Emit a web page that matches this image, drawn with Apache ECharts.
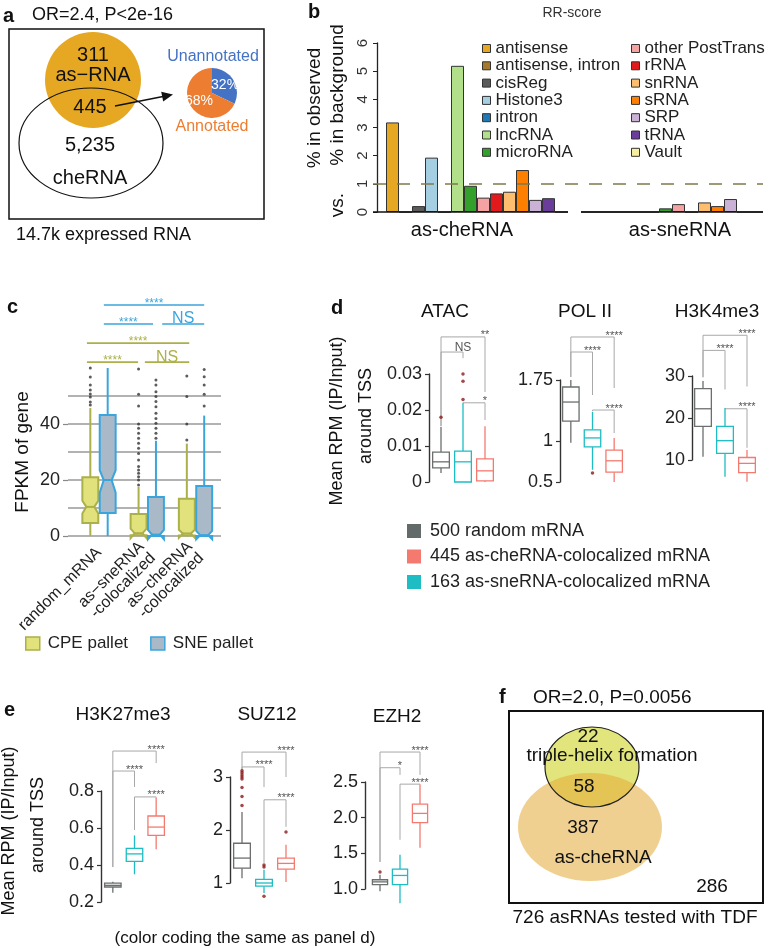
<!DOCTYPE html>
<html>
<head>
<meta charset="utf-8">
<script src="https://cdn.jsdelivr.net/npm/echarts@6/dist/echarts.min.js"></script>
<style>
  html, body { margin: 0; padding: 0; background: #fff; }
  #chart { width: 776px; height: 948px; }
</style>
</head>
<body>
<div id="chart"></div>
<script>
const FONT = '"Liberation Sans", Arial, Helvetica, sans-serif'

// ---- a: annotation share of the 445 overlap
const annotNames = ['Unannotated', 'Annotated']
const annotPct = [32, 68]

// ---- b: RR-score
const rrTypes = ['antisense', 'antisense, intron', 'cisReg', 'Histone3', 'intron', 'lncRNA', 'microRNA',
  'other PostTrans', 'rRNA', 'snRNA', 'sRNA', 'SRP', 'tRNA', 'Vault']
const rrGroups = ['as-cheRNA', 'as-sneRNA']
const rrChe = [3.18, 0, 0.21, 1.93, 0, 5.19, 0.93, 0.51, 0.66, 0.72, 1.49, 0.43, 0.49, 0]
const rrSne = [0, 0, 0, 0, 0, 0, 0.13, 0.28, 0, 0.34, 0.21, 0.46, 0, 0]
const rrTicks = [0, 1, 2, 3, 4, 5, 6]

// ---- c: FPKM boxplots  [low, q1, median, q3, high]
const fpkmGroups = ['random_mRNA', 'as\u2212sneRNA\n-colocalized', 'as\u2212cheRNA\n-colocalized']
const cpeBox = [[0, 4.6, 10.4, 21.0, 45.7], [0, 0.3, 1.0, 7.9, 17.5], [0, 0.2, 0.9, 13.3, 33.0]]
const cpeNotch = [[8.0, 12.6], [-0.8, 2.6], [-0.6, 2.2]]
const sneBox = [[0, 8.2, 20.0, 43.2, 60.0], [0, 0, 0.5, 13.9, 34.0], [0, 0, 0.3, 17.9, 43.0]]
const sneNotch = [[15.5, 23.5], [-1.2, 2.2], [-1.2, 1.8]]
const cpeOut = [
  [46.8, 47.9, 49.6, 50.7, 52.1, 53.9, 56.8, 60.0],
  [18.2, 20.0, 21.2, 22.4, 23.6, 24.8, 27.1, 29.5, 31.3, 33.1, 34.9, 36.7, 38.5, 40.0, 46.4, 50.6, 59.6],
  [34.3, 40.0, 49.8, 57.1],
]
const sneOut = [
  [],
  [34.9, 36.7, 38.5, 40.3, 42.0, 43.8, 46.2, 48.0, 49.8, 51.5, 53.9, 55.7],
  [46.4, 50.6, 53.9, 56.9, 59.5],
]
// [from, to, height] in group units / FPKM
const fpkmSig = [[1.10, 3.18, 82.5], [1.10, 2.12, 75.7], [2.31, 3.18, 75.7],
  [0.75, 2.87, 68.9], [0.75, 1.81, 62.1], [1.95, 2.87, 62.1]]
const fpkmSigLabels = ['****', '****', 'NS', '****', '****', 'NS']
const fpkmSigPallet = [1, 1, 1, 0, 0, 0]

// ---- d / e: box order = random, as-sneRNA, as-cheRNA
const markNames = ['500 random mRNA', '163 as-sneRNA-colocalized mRNA', '445 as-cheRNA-colocalized mRNA']
const legendNames = ['500 random mRNA', '445 as-cheRNA-colocalized mRNA', '163 as-sneRNA-colocalized mRNA']

const atacBox = [[0.0025, 0.0039, 0.0056, 0.0083, 0.0153], [0, 0, 0.0056, 0.0086, 0.022], [0, 0.0003, 0.0031, 0.0064, 0.0155]]
const atacOut = [[0.018], [0.0229, 0.028, 0.030], []]
const atacSig = [[0, 2, 0.0403, 0.0155, 0.025], [0, 1, 0.0361, 0.0155, 0.0344], [1, 2, 0.022, 0.022, 0.0172]]
const atacSigLabels = ['**', 'NS', '*']

const pol2Box = [[0.98, 1.247, 1.48, 1.664, 1.75], [0.65, 0.93, 1.04, 1.14, 1.36], [0.5, 0.62, 0.76, 0.89, 1.04]]
const pol2Out = [[], [0.61], []]
const pol2Sig = [[0, 2, 2.277, 1.787, 1.652], [0, 1, 2.093, 1.787, 1.566], [1, 2, 1.382, 1.37, 1.1]]
const pol2SigLabels = ['****', '****', '****']
const pol2Ticks = [0.5, 1, 1.75]

const h3k4Box = [[10.8, 18.0, 22.2, 27.0, 28.8], [6.0, 11.6, 14.6, 18.0, 22.4], [4.8, 7.0, 9.2, 10.6, 12.4]]
const h3k4Out = [[], [], []]
const h3k4Sig = [[0, 2, 39.7, 29.7, 27.5], [0, 1, 36.1, 29.7, 26.8], [1, 2, 22.2, 22.2, 12.9]]
const h3k4SigLabels = ['****', '****', '****']

const h3k27Box = [[0.25, 0.281, 0.29, 0.302, 0.31], [0.35, 0.42, 0.46, 0.49, 0.56], [0.485, 0.56, 0.605, 0.665, 0.765]]
const h3k27Out = [[], [], []]
const h3k27Sig = [[0, 2, 1.016, 0.389, 0.951], [0, 1, 0.908, 0.389, 0.822], [1, 2, 0.768, 0.589, 0.765]]
const h3k27SigLabels = ['****', '****', '****']

const suz12Box = [[1.09, 1.28, 1.47, 1.75, 2.34], [0.81, 0.94, 1.0, 1.07, 1.25], [1.02, 1.26, 1.37, 1.47, 1.72]]
const suz12Out = [[3.12, 3.08, 3.04, 3.0, 2.96, 2.8, 2.63, 2.46], [1.34, 1.3, 0.75], [1.96]]
const suz12Sig = [[0, 2, 3.47, 3.13, 3.0], [0, 1, 3.19, 3.13, 2.81], [1, 2, 2.57, 1.38, 2.06]]
const suz12SigLabels = ['****', '****', '****']

const ezh2Box = [[0.97, 1.06, 1.10, 1.13, 1.2], [0.8, 1.06, 1.19, 1.28, 1.48], [1.58, 1.93, 2.06, 2.19, 2.47]]
const ezh2Out = [[1.24], [], []]
const ezh2Sig = [[0, 2, 2.92, 1.38, 2.6], [0, 1, 2.70, 1.38, 2.6], [1, 2, 2.47, 1.69, 2.47]]
const ezh2SigLabels = ['****', '*', '****']

// colours
const rrColors = ['#E6A823', '#A67A2E', '#5B5B5B', '#A6CEE3', '#1F78B4', '#B2DF8A', '#33A02C',
  '#F4A3A2', '#E31A1C', '#FDBF6F', '#FF7F00', '#CAB2D6', '#6A3D9A', '#F7EFA0']
const pallet = [
  { name: 'CPE pallet', fill: '#E1E27C', stroke: '#ACB04A' },
  { name: 'SNE pallet', fill: '#A9B9C8', stroke: '#3AA5DD' },
]
const boxColors = ['#6B6F6F', '#1DBDC3', '#F47A70']
const legendColors = ['#626A6A', '#F47A70', '#1DBDC3']

// ---------- renderers ----------
function boxRenderer(stroke, fill, half, lw, notches) {
  return function (params, api) {
    const x = api.value(0)
    const v = [1, 2, 3, 4, 5].map(k => api.value(k))
    const hw = api.size([1, 0])[0] * half
    const Y = val => api.coord([x, val])[1]
    const cx = api.coord([x, v[2]])[0]
    const n = notches ? notches[params.dataIndex] : null
    const ind = n ? hw * 0.5 : hw
    const pts = n
      ? [[cx - hw, Y(v[1])], [cx - hw, Y(n[0])], [cx - ind, Y(v[2])], [cx - hw, Y(n[1])], [cx - hw, Y(v[3])],
         [cx + hw, Y(v[3])], [cx + hw, Y(n[1])], [cx + ind, Y(v[2])], [cx + hw, Y(n[0])], [cx + hw, Y(v[1])]]
      : [[cx - hw, Y(v[1])], [cx - hw, Y(v[3])], [cx + hw, Y(v[3])], [cx + hw, Y(v[1])]]
    const ln = (x1, y1, x2, y2) => ({ type: 'line', shape: { x1, y1, x2, y2 }, style: { stroke, lineWidth: lw } })
    return {
      type: 'group',
      children: [
        ln(cx, Y(v[4]), cx, Y(v[3])),
        ln(cx, Y(v[1]), cx, Y(v[0])),
        { type: 'polygon', shape: { points: pts }, style: { fill, stroke, lineWidth: lw } },
        ln(cx - ind, Y(v[2]), cx + ind, Y(v[2])),
      ],
    }
  }
}

function sigRenderer(rows, labels, opt) {
  return function (params, api) {
    const i = params.dataIndex
    const r = rows[i]
    const yL = r.length > 3 ? r[3] : r[2]
    const yR = r.length > 4 ? r[4] : r[2]
    const a = api.coord([r[0], yL]), b = api.coord([r[0], r[2]])
    const c = api.coord([r[1], r[2]]), d = api.coord([r[1], yR])
    const lab = labels[i]
    const ns = lab === 'NS'
    const col = opt.colorOf(i)
    return {
      type: 'group',
      children: [
        { type: 'polyline', shape: { points: [a, b, c, d] }, style: { stroke: col, lineWidth: opt.lw, fill: 'none' } },
        {
          type: 'text',
          x: opt.mid ? (b[0] + c[0]) / 2 : c[0],
          y: b[1] - (ns ? opt.nsLift : 1.5),
          style: {
            text: lab, fill: opt.textColorOf(i),
            font: (ns ? opt.nsSize : opt.starSize) + 'px ' + FONT,
            textAlign: 'center', textVerticalAlign: 'middle',
          },
        },
      ],
    }
  }
}

function baselineRenderer(rows) {
  return function (params, api) {
    const r = rows[params.dataIndex]
    const band = api.size([1, 0])[0]
    const p0 = api.coord([r[0], 0]), p1 = api.coord([r[1], 0])
    return { type: 'line', shape: { x1: p0[0] - band / 2, y1: p0[1], x2: p1[0] + band / 2, y2: p1[1] }, style: { stroke: '#111', lineWidth: 1.5 } }
  }
}

// ---------- layout ----------
const grids = [
  { left: 373, top: 43, width: 390, height: 169 },  // b
  { left: 68, top: 396, width: 153, height: 140 },  // c
  { left: 430, top: 374, width: 66, height: 108 },  // ATAC
  { left: 560, top: 380, width: 65, height: 102 },  // POL II
  { left: 692, top: 376, width: 66, height: 84 },   // H3K4me3
  { left: 102, top: 791, width: 65, height: 111 },  // H3K27me3
  { left: 231, top: 777, width: 66, height: 106 },  // SUZ12
  { left: 370, top: 782, width: 60, height: 107 },  // EZH2
]

const subplots = [
  { grid: 2, box: atacBox, out: atacOut, sig: atacSig, lab: atacSigLabels, min: 0, max: 0.03, interval: 0.01, offset: 1 },
  { grid: 3, box: pol2Box, out: pol2Out, sig: pol2Sig, lab: pol2SigLabels, min: 0.5, max: 1.75, ticks: pol2Ticks, offset: 0 },
  { grid: 4, box: h3k4Box, out: h3k4Out, sig: h3k4Sig, lab: h3k4SigLabels, min: 10, max: 30, interval: 10, offset: 0 },
  { grid: 5, box: h3k27Box, out: h3k27Out, sig: h3k27Sig, lab: h3k27SigLabels, min: 0.2, max: 0.8, interval: 0.2, offset: 1, fixed: 1 },
  { grid: 6, box: suz12Box, out: suz12Out, sig: suz12Sig, lab: suz12SigLabels, min: 1, max: 3, interval: 1, offset: 1 },
  { grid: 7, box: ezh2Box, out: ezh2Out, sig: ezh2Sig, lab: ezh2SigLabels, min: 1, max: 2.5, interval: 0.5, offset: 5, fixed: 1 },
]

const hidden = { axisLine: { show: false }, axisTick: { show: false }, axisLabel: { show: false }, splitLine: { show: false } }
const rrCats = Array.from({ length: 30 }, (_, i) => 'c' + i)

const xAxis = [
  { gridIndex: 0, type: 'category', data: rrCats, ...hidden },
  {
    gridIndex: 1, type: 'value', min: 0.3575, max: 3.528,
    axisLine: { show: false }, axisTick: { show: false }, splitLine: { show: false },
    axisLabel: {
      customValues: [1, 2, 3], formatter: v => fpkmGroups[Math.round(v) - 1] || '',
      rotate: 45, fontSize: 16, color: '#222', margin: 14, lineHeight: 16,
    },
  },
]
subplots.forEach(sp => xAxis.push({ gridIndex: sp.grid, type: 'category', data: ['0', '1', '2'], ...hidden }))

const axisDark = { show: true, lineStyle: { color: '#333', width: 1.4 } }
const yAxis = [
  {
    gridIndex: 0, type: 'value', min: 0, max: 6, interval: 1, offset: -4,
    axisLine: { show: true, lineStyle: { color: '#222', width: 1.3 } },
    axisTick: { show: true, length: 4, lineStyle: { color: '#222' } },
    axisLabel: { customValues: rrTicks, rotate: 90, fontSize: 15, color: '#333', margin: 6.5 },
    splitLine: { show: false },
  },
  {
    gridIndex: 1, type: 'value', min: 0, max: 50, interval: 10, position: 'left',
    axisLine: { show: false }, axisTick: { show: false }, axisLabel: { show: false },
    splitLine: { show: true, lineStyle: { color: '#999', width: 1.5 } },
  },
]
subplots.forEach(sp => {
  const ax = {
    gridIndex: sp.grid, type: 'value', min: sp.min, max: sp.max, offset: sp.offset, position: 'left',
    axisLine: axisDark,
    axisTick: { show: true, length: 4, lineStyle: { color: '#333', width: 1.2 } },
    axisLabel: { fontSize: 18, color: '#222', margin: 7 },
    splitLine: { show: false },
  }
  if (sp.ticks) {
    ax.axisLabel.customValues = sp.ticks
    ax.axisTick.customValues = sp.ticks
  } else {
    ax.interval = sp.interval
  }
  if (sp.fixed) ax.axisLabel.formatter = v => v.toFixed(sp.fixed)
  yAxis.push(ax)
})
// c: labels / ticks at 0, 20, 40 only (same grid, left side too)
yAxis.push({
  gridIndex: 1, type: 'value', min: 0, max: 50, position: 'left', offset: 0,
  axisLine: { show: false }, splitLine: { show: false },
  axisTick: { show: true, customValues: [0, 20, 40], length: 5, lineStyle: { color: '#888', width: 1.2 } },
  axisLabel: { customValues: [0, 20, 40], fontSize: 18, color: '#222', margin: 8 },
})

// ---------- series ----------
const series = []

// a: pie
series.push({
  type: 'pie', center: [212, 93], radius: 25, startAngle: 90, clockwise: true, silent: true,
  data: annotNames.map((n, i) => ({ name: n, value: annotPct[i], itemStyle: { color: i === 0 ? '#4472C4' : '#ED7D31' } })),
  label: { show: true, position: 'inside', formatter: '{c}%', color: '#fff', fontSize: 14, fontFamily: FONT },
  labelLine: { show: false },
})

// b: bars, one series per type so the legend can list them
rrTypes.forEach((name, k) => {
  const s = {
    type: 'bar', name, xAxisIndex: 0, yAxisIndex: 0, stack: 'rr', barWidth: '100%', silent: true,
    data: rrCats.map((_, i) => (i === k + 1 ? rrChe[k] : i === k + 16 ? rrSne[k] : '-')),
    itemStyle: { color: rrColors[k], borderColor: '#333', borderWidth: 1 },
  }
  if (k === 0) {
    s.markLine = {
      silent: true, symbol: 'none', label: { show: false },
      lineStyle: { color: '#7D7A4C', type: [13, 11], width: 1.5 },
      data: [{ yAxis: 1 }],
    }
  }
  series.push(s)
})
series.push({
  type: 'custom', xAxisIndex: 0, yAxisIndex: 0, silent: true, z: 5,
  data: [[0, 14], [16, 29]], renderItem: baselineRenderer([[0, 14], [16, 29]]),
})

// c: notched boxes
pallet.forEach((p, j) => {
  const box = j === 0 ? cpeBox : sneBox
  const notch = j === 0 ? cpeNotch : sneNotch
  const out = j === 0 ? cpeOut : sneOut
  const dx = j === 0 ? -0.18 : 0.18
  series.push({
    type: 'custom', name: p.name, xAxisIndex: 1, yAxisIndex: 1, silent: true, z: 3,
    itemStyle: { color: p.fill, borderColor: p.stroke, borderWidth: 1.5 },
    data: box.map((s, g) => [g + 1 + dx, ...s]),
    renderItem: boxRenderer(p.stroke, p.fill, 0.165, 2, notch),
  })
  series.push({
    type: 'scatter', xAxisIndex: 1, yAxisIndex: 1, silent: true, clip: false, z: 4,
    symbolSize: 3, itemStyle: { color: '#333' },
    data: out.flatMap((arr, g) => arr.map(v => [g + 1 + dx, v])),
  })
})
series.push({
  type: 'custom', xAxisIndex: 1, yAxisIndex: 1, silent: true, z: 4,
  data: fpkmSig.map(r => [r[0], r[2]]),
  renderItem: sigRenderer(fpkmSig, fpkmSigLabels, {
    mid: true, lw: 1.6, starSize: 12, nsSize: 16, nsLift: 5,
    colorOf: i => pallet[fpkmSigPallet[i]].stroke, textColorOf: i => pallet[fpkmSigPallet[i]].stroke,
  }),
})

// d / e: boxes, outliers and brackets
subplots.forEach(sp => {
  sp.box.forEach((s, i) => {
    series.push({
      type: 'custom', name: markNames[i], xAxisIndex: sp.grid, yAxisIndex: sp.grid, silent: true, z: 3,
      itemStyle: { color: legendColors[legendNames.indexOf(markNames[i])] },
      data: [[i, ...s]],
      renderItem: boxRenderer(boxColors[i], '#fff', 0.38, 1.3, null),
    })
  })
  series.push({
    type: 'scatter', xAxisIndex: sp.grid, yAxisIndex: sp.grid, silent: true, clip: false, z: 4,
    symbolSize: 3.5, itemStyle: { color: '#8B1A1A' },
    data: sp.out.flatMap((arr, i) => arr.map(v => [i, v])),
  })
  series.push({
    type: 'custom', xAxisIndex: sp.grid, yAxisIndex: sp.grid, silent: true, z: 2,
    data: sp.sig.map(r => [r[0], r[2]]),
    renderItem: sigRenderer(sp.sig, sp.lab, {
      mid: false, lw: 1, starSize: 11, nsSize: 12, nsLift: 4.6,
      colorOf: () => '#A8A8A8', textColorOf: () => '#555',
    }),
  })
})

// ---------- legends ----------
const legBase = { padding: 0, icon: 'rect', selectedMode: false, textStyle: { fontFamily: FONT, color: '#222' } }
const legend = [
  {
    ...legBase, data: rrTypes.slice(0, 7), orient: 'vertical', left: 482, top: 40,
    itemWidth: 8, itemHeight: 8, itemGap: 0.3,
    itemStyle: { borderColor: '#333', borderWidth: 1 },
    textStyle: { ...legBase.textStyle, fontSize: 17, lineHeight: 17 },
  },
  {
    ...legBase, data: rrTypes.slice(7), orient: 'vertical', left: 631, top: 40,
    itemWidth: 8, itemHeight: 8, itemGap: 0.3,
    itemStyle: { borderColor: '#333', borderWidth: 1 },
    textStyle: { ...legBase.textStyle, fontSize: 17, lineHeight: 17 },
  },
  {
    ...legBase, orient: 'horizontal', left: 25, top: 635, itemWidth: 14, itemHeight: 13, itemGap: 22,
    data: pallet.map(p => ({ name: p.name, itemStyle: { color: p.fill, borderColor: p.stroke, borderWidth: 1.5 } })),
    textStyle: { ...legBase.textStyle, fontSize: 17, lineHeight: 17, padding: [0, 0, 0, 3] },
  },
  {
    ...legBase, orient: 'vertical', left: 407, top: 522, itemWidth: 14, itemHeight: 14, itemGap: 7.5,
    data: legendNames.map((n, i) => ({ name: n, itemStyle: { color: legendColors[i], borderWidth: 0 } })),
    textStyle: { ...legBase.textStyle, fontSize: 18, lineHeight: 18, padding: [0, 0, 0, 4] },
  },
]

// ---------- text & shapes ----------
function txt(x, y, s, size, o = {}) {
  return {
    type: 'text', x, y, rotation: o.rot || 0, silent: true,
    style: {
      text: s, fill: o.color || '#111',
      font: (o.bold ? 'bold ' : '') + size + 'px ' + FONT,
      textAlign: o.align || 'center', textVerticalAlign: 'middle',
    },
  }
}
const UP = Math.PI / 2
const G = [
  // a
  txt(3, 16, 'a', 20, { bold: true, align: 'left' }),
  txt(32, 15, 'OR=2.4, P<2e-16', 18, { align: 'left' }),
  { type: 'rect', shape: { x: 9, y: 29, width: 255, height: 190 }, style: { fill: 'none', stroke: '#111', lineWidth: 1.5 } },
  { type: 'circle', shape: { cx: 93, cy: 80, r: 48 }, style: { fill: '#E6A823' } },
  { type: 'ellipse', shape: { cx: 91, cy: 143, rx: 72, ry: 55 }, style: { fill: 'none', stroke: '#111', lineWidth: 1.2 } },
  txt(93, 55, '311', 20), txt(93, 75, 'as\u2212RNA', 20), txt(90, 107, '445', 20),
  txt(90, 145, '5,235', 20), txt(90, 178, 'cheRNA', 20),
  { type: 'line', shape: { x1: 115, y1: 106, x2: 163, y2: 96.5 }, style: { stroke: '#111', lineWidth: 1.6 } },
  { type: 'polygon', shape: { points: [[173, 94.5], [163.2, 101.5], [161.2, 91.7]] }, style: { fill: '#111' } },
  txt(213, 57, 'Unannotated', 16, { color: '#4472C4' }),
  txt(212, 127, 'Annotated', 16, { color: '#ED7D31' }),
  txt(16, 235, '14.7k expressed RNA', 18, { align: 'left' }),
  // b
  txt(308, 12, 'b', 20, { bold: true, align: 'left' }),
  txt(572, 13, 'RR-score', 14, { color: '#333' }),
  txt(315, 108, '% in observed', 19, { rot: UP }),
  txt(338, 95, '% in background', 19, { rot: UP }),
  txt(338, 205, 'vs.', 19, { rot: UP }),
  txt(462, 230, rrGroups[0], 20), txt(680, 230, rrGroups[1], 20),
  // c
  txt(7, 307, 'c', 20, { bold: true, align: 'left' }),
  txt(23, 452, 'FPKM of gene', 19, { rot: UP }),
  // d
  txt(331, 308, 'd', 20, { bold: true, align: 'left' }),
  txt(445, 312, 'ATAC', 19), txt(585, 312, 'POL II', 19), txt(717, 312, 'H3K4me3', 19),
  txt(337, 421, 'Mean RPM (IP/Input)', 18, { rot: UP }),
  txt(366, 416, 'around TSS', 18, { rot: UP }),
  // e
  txt(4, 710, 'e', 20, { bold: true, align: 'left' }),
  txt(123, 715, 'H3K27me3', 19), txt(267, 715, 'SUZ12', 19), txt(397, 717, 'EZH2', 19),
  txt(9, 831, 'Mean RPM (IP/Input)', 18, { rot: UP }),
  txt(38, 825, 'around TSS', 18, { rot: UP }),
  txt(245, 938, '(color coding the same as panel d)', 17),
  // f
  txt(499, 697, 'f', 20, { bold: true, align: 'left' }),
  txt(533, 698, 'OR=2.0, P=0.0056', 19, { align: 'left' }),
  { type: 'rect', shape: { x: 509, y: 711, width: 254, height: 192 }, style: { fill: 'none', stroke: '#111', lineWidth: 2 } },
  { type: 'ellipse', shape: { cx: 592, cy: 767, rx: 47, ry: 40 }, style: { fill: '#E2E57C' } },
  { type: 'ellipse', shape: { cx: 590, cy: 827, rx: 72, ry: 54 }, style: { fill: 'rgba(228,170,53,0.55)' } },
  { type: 'ellipse', shape: { cx: 592, cy: 767, rx: 47, ry: 40 }, style: { fill: 'none', stroke: '#222', lineWidth: 1.2 } },
  txt(588, 737, '22', 19), txt(612, 756, 'triple-helix formation', 19), txt(584, 787, '58', 19),
  txt(583, 828, '387', 19), txt(603, 858, 'as-cheRNA', 19), txt(712, 887, '286', 19),
  txt(635, 918, '726 asRNAs tested with TDF', 19),
]

const option = {
  animation: false,
  textStyle: { fontFamily: FONT },
  grid: grids.map(g => ({ ...g, containLabel: false, outerBoundsMode: 'none' })),
  xAxis,
  yAxis,
  legend,
  series,
  graphic: { elements: G },
}

const chart = echarts.init(document.getElementById('chart'))
chart.setOption(option)
</script>
</body>
</html>
